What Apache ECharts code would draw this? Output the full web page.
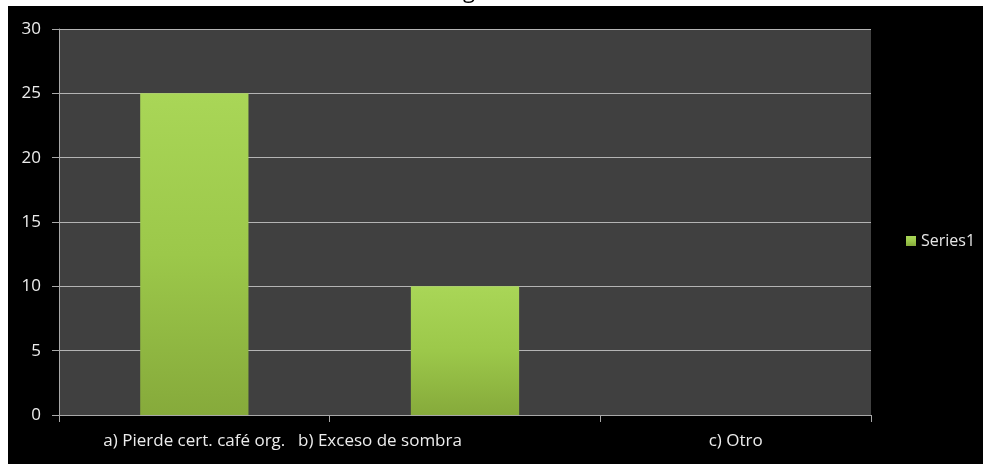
<!DOCTYPE html>
<html>
<head>
<meta charset="utf-8">
<script src="https://cdn.jsdelivr.net/npm/echarts@6/dist/echarts.min.js"></script>
<style>
  html, body { margin: 0; padding: 0; background: #ffffff; }
  #chart { width: 983px; height: 464px; }
</style>
</head>
<body>
<div id="chart"></div>
<script>
// Categories, values and axis ticks
const categories = ['a) Pierde cert. café org.', 'b) Exceso de sombra', 'c) Otro'];
const seriesName = 'Series1';
const series1 = [25, 10, 0];
const yTicks = [0, 5, 10, 15, 20, 25, 30];

const chart = echarts.init(document.getElementById('chart'), null, { renderer: 'canvas' });

const barFill = new echarts.graphic.LinearGradient(0, 0, 0, 1, [
  { offset: 0, color: '#a9d657' },
  { offset: 0.5, color: '#9cc84a' },
  { offset: 1, color: '#86aa3b' }
]);

const labelFont = '"Open Sans", "Noto Sans", sans-serif';

chart.setOption({
  backgroundColor: '#ffffff',
  animation: false,
  graphic: [
    { type: 'rect', z: -10, silent: true, shape: { x: 8, y: 6, width: 975, height: 458 }, style: { fill: '#000000' } },
    { type: 'text', z: 1, silent: true, left: 463, top: -19, style: { text: 'g', fill: '#000000', font: '22px ' + labelFont } }
  ],
  grid: {
    left: 59, right: 112, top: 29, bottom: 49,
    show: true, backgroundColor: '#404040', borderWidth: 0
  },
  legend: {
    left: 901, top: 228,
    itemWidth: 10, itemHeight: 10,
    icon: 'rect',
    itemGap: 6,
    textStyle: { color: '#e6e6e6', fontSize: 16, fontFamily: labelFont },
    data: [seriesName]
  },
  xAxis: {
    type: 'category',
    data: categories.map((c, i) => i === 1
      ? { value: c, textStyle: { padding: [0, 170, 0, 0] } }
      : c),
    axisLine: { lineStyle: { color: '#a8a8a8', width: 1 } },
    axisTick: { show: true, length: 7, lineStyle: { color: '#a8a8a8' } },
    axisLabel: { color: '#ececec', fontSize: 17, fontFamily: labelFont, margin: 18, interval: 0 },
    splitLine: { show: false }
  },
  yAxis: {
    type: 'value',
    min: yTicks[0], max: yTicks[yTicks.length - 1], interval: 5,
    axisLine: { show: true, lineStyle: { color: '#a8a8a8', width: 1 } },
    axisTick: { show: true, length: 7, lineStyle: { color: '#a8a8a8' } },
    axisLabel: { color: '#ececec', fontSize: 17, fontFamily: labelFont, margin: 18 },
    splitLine: { show: true, lineStyle: { color: '#b4b4b4', width: 1 } }
  },
  series: [{
    name: seriesName,
    type: 'bar',
    data: series1,
    barWidth: '40%',
    itemStyle: { color: barFill, borderWidth: 0 }
  }]
});
</script>
</body>
</html>
